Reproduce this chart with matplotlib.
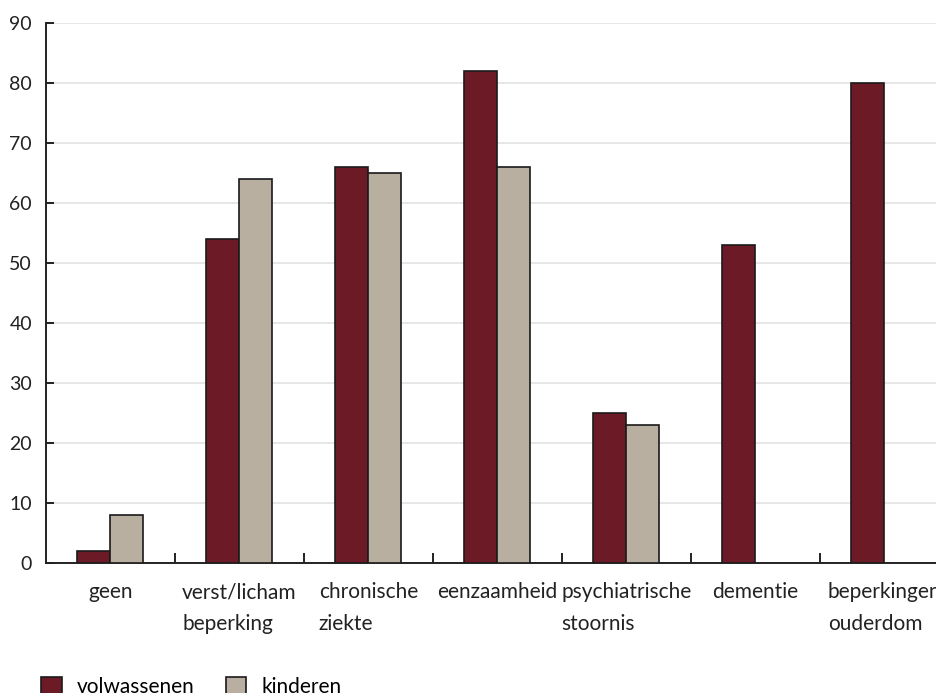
import matplotlib
matplotlib.use("Agg")
import matplotlib.pyplot as plt
import numpy as np
from matplotlib.patches import Patch

categories = ["geen", "verst/licham\nbeperking", "chronische\nziekte", "eenzaamheid",
              "psychiatrische\nstoornis", "dementie", "beperkingen\nouderdom"]
volwassenen = [2, 54, 66, 82, 25, 53, 80]
kinderen = [8, 64, 65, 66, 23, None, None]
series_names = ["volwassenen", "kinderen"]
colors = ["#6B1A26", "#B8AFA0"]

plt.rcParams['font.family'] = ['Lato', 'DejaVu Sans']
plt.rcParams['font.size'] = 14

fig = plt.figure(figsize=(9.37, 6.93), dpi=100)
ax = fig.add_axes([46/937, 1-563/693, 903/937, 540/693])

x = np.arange(len(categories))
w = 33/129
ax.bar(x - w/2, volwassenen, width=w, color=colors[0], edgecolor="#1a1a1a", linewidth=1.2, zorder=3)
kx = [xi for xi, v in zip(x, kinderen) if v is not None]
kv = [v for v in kinderen if v is not None]
ax.bar(np.array(kx) + w/2, kv, width=w, color=colors[1], edgecolor="#1a1a1a", linewidth=1.2, zorder=3)

ax.set_xlim(-0.5, len(categories) - 0.5)
ax.set_ylim(0, 90)
ax.set_yticks(range(0, 91, 10))
ax.yaxis.grid(True, color="#e3e3e3", linewidth=1.2, zorder=0)
ax.set_axisbelow(True)
for s in ["top", "right"]:
    ax.spines[s].set_visible(False)
for s in ["left", "bottom"]:
    ax.spines[s].set_linewidth(1.4)
    ax.spines[s].set_color("#222222")

ax.set_xticks(x)
ax.set_xticklabels(categories, multialignment="left", color="#222222", linespacing=1.75,
                   fontsize=15)
ax.tick_params(axis="x", which="major", length=0, pad=14)
ax.set_xticks(np.arange(0.5, len(categories) - 0.5, 1), minor=True)
ax.tick_params(axis="x", which="minor", direction="in", length=7, width=1.4, color="#222222")
ax.tick_params(axis="y", direction="in", length=6, width=1.4, pad=10, color="#222222", labelcolor="#222222")

handles = [Patch(facecolor=c, edgecolor="#1a1a1a", linewidth=1.2) for c in colors]
fig.legend(handles, series_names, loc="lower left", bbox_to_anchor=(0.024, -0.033),
           ncol=2, frameon=False, handlelength=1.0, handleheight=1.0, fontsize=15,
           columnspacing=1.5, handletextpad=0.7)

fig.savefig("out.png", dpi=100)
